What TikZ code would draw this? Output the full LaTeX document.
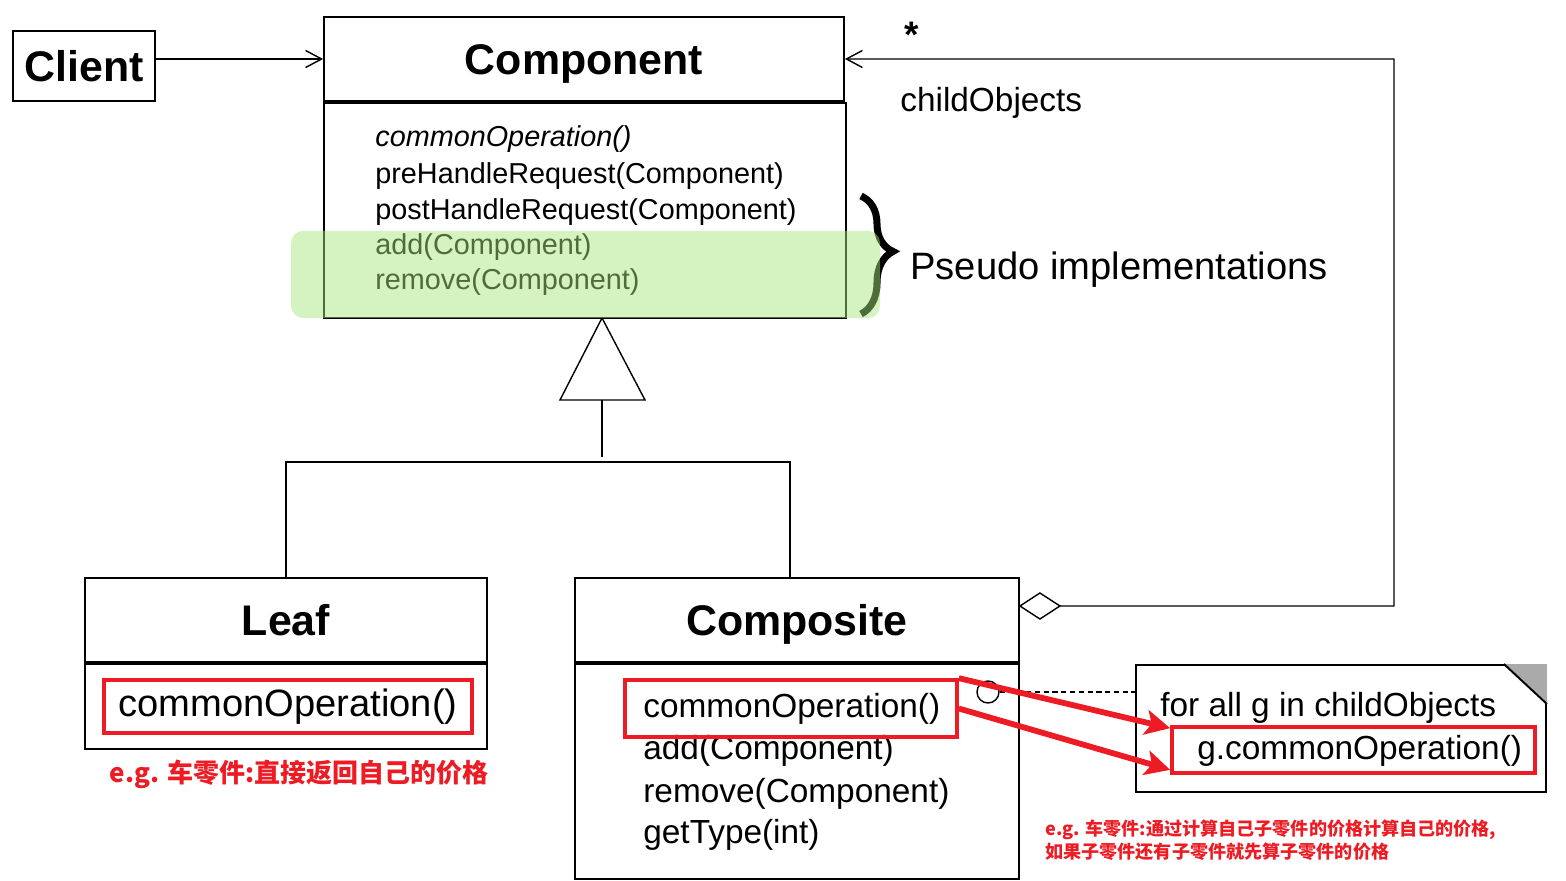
\documentclass[tikz,border=0pt]{standalone}
\usepackage{fontspec}
\setmainfont{Liberation Sans}
\newfontfamily\cjk{Noto Sans CJK SC}
\usetikzlibrary{arrows.meta,decorations.pathreplacing}
\definecolor{mark}{RGB}{237,28,36}
\definecolor{pseudo}{RGB}{167,229,125}
\definecolor{fold}{RGB}{170,170,170}
\tikzset{
  box/.style={draw, line width=1.1pt, inner sep=0pt},
  title/.style={box, font=\fontsize{24.4}{29}\selectfont\bfseries, text height=17.5pt, text depth=0pt},
  op/.style={anchor=base west, inner sep=0pt, font=\fontsize{16.4}{20}\selectfont},
  bigop/.style={anchor=base west, inner sep=0pt, font=\fontsize{19}{23}\selectfont},
  redbox/.style={draw=mark, line width=2.1pt, inner sep=0pt},
  redarrow/.style={draw=mark, line width=3.3pt, -{Stealth[length=0.5cm,width=0.5cm,inset=0.12cm]}},
  barb/.style={thick, -{Straight Barb[length=0.32cm,width=0.34cm]}},
  cnnote/.style={text=mark, inner sep=0pt, font=\cjk\bfseries\fontsize{10.3}{13}\selectfont}
}

\begin{document}
\begin{tikzpicture}[x=0.02cm, y=-0.02cm]
\useasboundingbox (0,0) rectangle (1566,881);
% Client and Component
\node[title, minimum width=2.84cm, minimum height=1.4cm] (client) at (84,66) {Client};
\node[title, minimum width=10.4cm, minimum height=1.68cm] (component) at (584,59) {Component};
\node[box, minimum width=10.44cm, minimum height=4.3cm] (componentbody) at (585,210.5) {};
\node[op, font=\fontsize{16.4}{20}\selectfont\itshape] (cop1) at (375,147) {commonOperation()};
\node[op] (cop2) at (375,184) {preHandleRequest(Component)};
\node[op] (cop3) at (375,220) {postHandleRequest(Component)};
\node[op] (cop4) at (375,255) {add(Component)};
\node[op] (cop5) at (375,290) {remove(Component)};
\draw[barb] (client.east |- component.west) -- (component.west);

% Pseudo implementations
\draw[decorate, decoration={brace, amplitude=0.64cm, aspect=0.47}, line width=4pt] (861,196) -- (861,314);
\node[anchor=base west, inner sep=0pt, font=\fontsize{21.7}{26}\selectfont] (pseudo) at (910,280) {Pseudo implementations};

% Leaf
\node[title, minimum width=8.04cm, minimum height=1.68cm] (leaf) at (286,620) {Leaf};
\node[box, minimum width=8.04cm, minimum height=1.7cm] (leafbody) at (286,706.5) {};
\node[redbox, minimum width=7.36cm, minimum height=1.06cm, font=\fontsize{21.7}{26}\selectfont] (leafop) at (288,706.5) {commonOperation()};
\node[cnnote, font=\cjk\bfseries\fontsize{14.8}{18}\selectfont] (leafnote) at (299,774) {e.g. 车零件:直接返回自己的价格};

% Composite
\node[title, minimum width=8.88cm, minimum height=1.68cm] (composite) at (797,620) {Composite};
\node[box, minimum width=8.88cm, minimum height=4.3cm] (compositebody) at (797,771.5) {};
\node[bigop] (pop1) at (643,718) {commonOperation()};
\node[bigop] (pop2) at (643,760) {add(Component)};
\node[bigop] (pop3) at (643,802) {remove(Component)};
\node[bigop] (pop4) at (643,843) {getType(int)};
\node[redbox, minimum width=6.64cm, minimum height=1.14cm] (popmark) at (791,708.5) {};

% Inheritance
\coordinate (apex) at (602,318);
\draw[thick] (apex) -- (560,400) -- (645,400) -- cycle;
\draw[thick] (602,400) -- (602,457);
\draw[thick] (leaf.north) |- (602,462) -| ([xshift=-0.14cm]composite.north);

% childObjects
\coordinate (agg) at ([yshift=0.28cm]composite.east);
\draw[thick, fill=white] (agg) -- ++(20,-13) -- ++(20,13) -- ++(-20,13) -- cycle;
\coordinate (turn) at (1394,606);
\draw[barb] ([xshift=0.8cm]agg) -- (turn) |- (component.east);
\node[anchor=base, inner sep=0pt, font=\fontsize{21}{25}\selectfont\bfseries] (star) at (912,48) {*};
\node[bigop] (child) at (900,112) {childObjects};

% Note
\node[box, minimum width=8.2cm, minimum height=2.54cm] (note) at (1341,728.5) {};
\fill[fold] (note.north east) -- ++(-43,0) -- ++(43,40) -- cycle;
\draw[line width=1.1pt] ([xshift=-0.86cm]note.north east) -- ([yshift=-0.8cm]note.north east);
\node[bigop] (forall) at (1160,717) {for all g in childObjects};
\node[redbox, minimum width=7.26cm, minimum height=0.92cm] (gmark) at (1353.5,750) {};
\node[bigop] (gop) at (1197,759) {g.commonOperation()};
\node[draw, thick, circle, minimum size=0.44cm, inner sep=0pt] (pin) at (988,692) {};
\draw[thick, dash pattern=on 3pt off 2pt] (pin.east) -- (note.west |- pin.east);

% red arrows
\draw[redarrow] (popmark.north east) -- ([yshift=-0.06cm]gmark.north west);
\draw[redarrow] (popmark.east) -- ([yshift=0.1cm]gmark.south west);
\node[cnnote, anchor=base west] (compnote1) at (1045,835) {e.g. 车零件:通过计算自己子零件的价格计算自己的价格,};
\node[cnnote, anchor=base west] (compnote2) at (1045,858) {如果子零件还有子零件就先算子零件的价格};

% highlight
\fill[pseudo, opacity=0.48, rounded corners=0.24cm] (291,231) rectangle (880,318);
\end{tikzpicture}
\end{document}
